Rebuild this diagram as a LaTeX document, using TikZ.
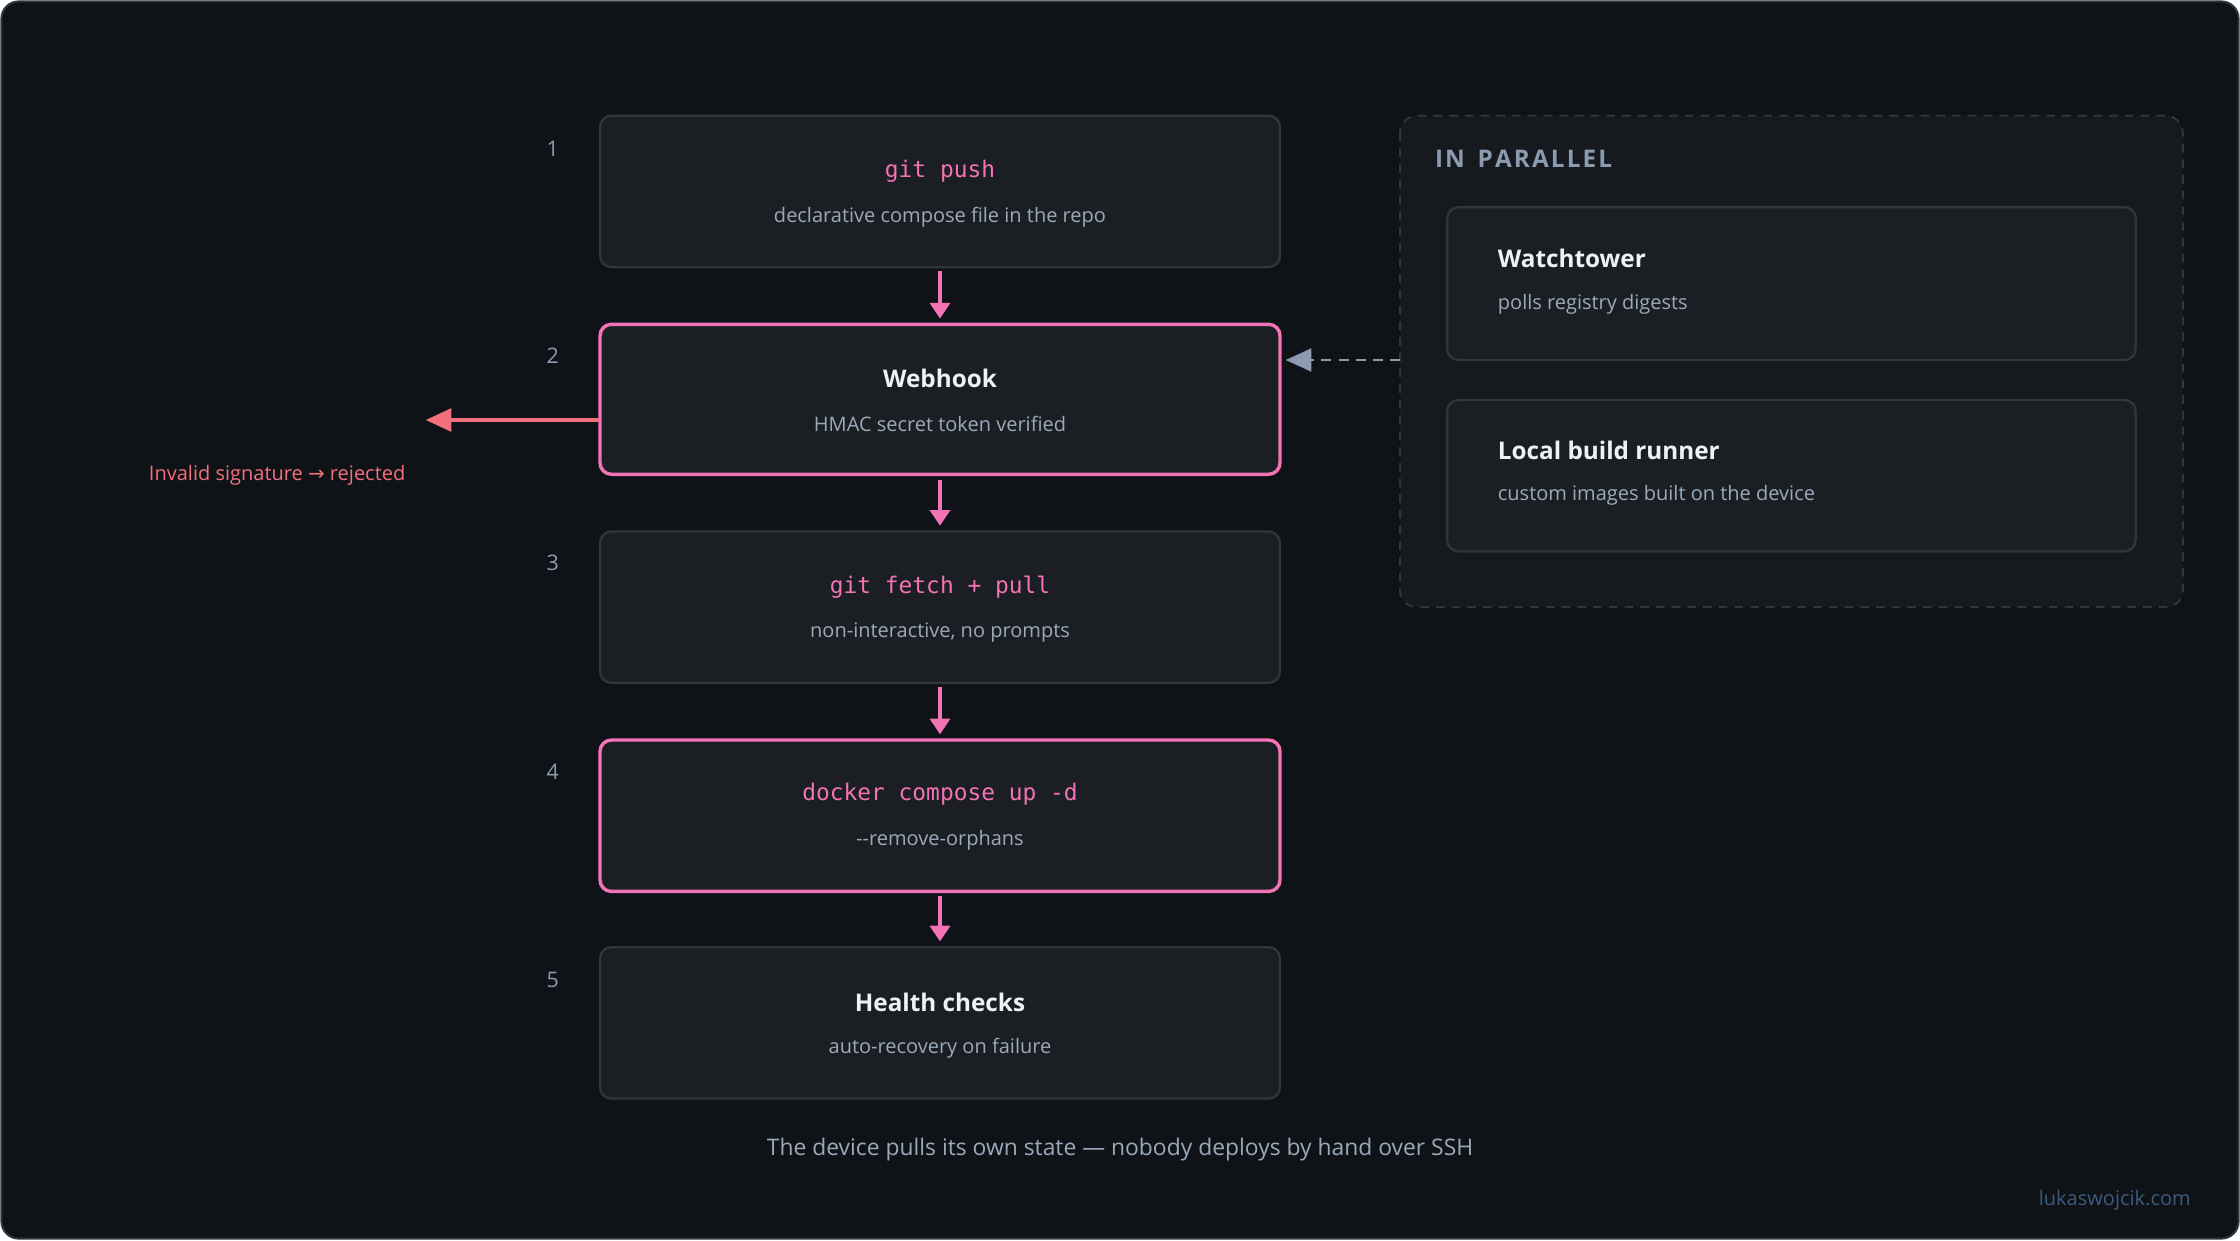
\documentclass[tikz,border=0pt]{standalone}
\usepackage{fontspec}
\setmainfont{Open Sans}
\newfontfamily\mono{DejaVu Sans Mono}
\newfontfamily\dvs{DejaVu Sans}
\usetikzlibrary{arrows.meta}
\definecolor{bg}{HTML}{0F1216}
\definecolor{boxbg}{HTML}{1B1F23}
\definecolor{edge}{HTML}{30363D}
\definecolor{pink}{HTML}{F472B6}
\definecolor{sub}{HTML}{9AAABB}
\definecolor{num}{HTML}{8B9BB0}
\definecolor{red}{HTML}{F2707C}
\definecolor{title}{HTML}{EEF2F6}
\definecolor{grp}{HTML}{161A1F}
\definecolor{link}{HTML}{3D5A80}
\begin{document}
\begin{tikzpicture}[x=1pt,y=-1pt,
  box/.style={draw=edge,line width=1.6pt,fill=boxbg,rounded corners=8pt},
  hot/.style={draw=pink,line width=2.4pt,fill=boxbg,rounded corners=8pt},
  ttl/.style={text=title,font=\fontsize{17}{20}\selectfont\bfseries},
  code/.style={text=pink,font=\mono\fontsize{16}{19}\selectfont},
  subt/.style={text=sub,font=\fontsize{14}{17}\selectfont},
  num/.style={text=num,font=\fontsize{15}{18}\selectfont},
  flow/.style={draw=pink,line width=2.4pt,-{Triangle[length=11pt,width=14pt]}}]
\useasboundingbox (0,0) rectangle (1568,868);
\draw[fill=bg,draw=edge,line width=1.4pt,rounded corners=12pt] (1,1) rectangle (1567,867);
% group
\draw[fill=grp,draw=edge,line width=1.4pt,dashed,dash pattern=on 6pt off 5pt,rounded corners=12pt] (980,81) rectangle (1528,425);
\node[anchor=west,text=num,font=\fontsize{17}{20}\selectfont\bfseries] (par) at (1001,111) {I\kern1.5pt N\ \ P\kern1.5pt A\kern1.5pt R\kern1.5pt A\kern1.5pt L\kern1.5pt L\kern1.5pt E\kern1.5pt L};
\draw[box] (1013,145) rectangle (1495,252);
\node[ttl,anchor=west] (wt) at (1045,181) {Watchtower};
\node[subt,anchor=west] (wts) at (1045,213) {polls registry digests};
\draw[box] (1013,280) rectangle (1495,386);
\node[ttl,anchor=west] (lb) at (1045,315) {Local build runner};
\node[subt,anchor=west] (lbs) at (1045,347) {custom images built on the device};
% main boxes
\draw[box] (420,81) rectangle (896,187);
\node[code] (t1) at (658,120) {git push};
\node[subt] (s1) at (658,152) {declarative compose file in the repo};
\draw[hot] (420,227) rectangle (896,332);
\node[ttl] (t2) at (658,265) {Webhook};
\node[subt] (s2) at (658,297) {HMAC secret token verified};
\draw[box] (420,372) rectangle (896,478);
\node[code] (t3) at (658,411) {git fetch + pull};
\node[subt] (s3) at (658,443) {non-interactive, no prompts};
\draw[hot] (420,518) rectangle (896,624);
\node[code] (t4) at (658,556) {docker compose up -d};
\node[subt] (s4) at (658,588) {{-}{-}remove-orphans};
\draw[box] (420,663) rectangle (896,769);
\node[ttl] (t5) at (658,702) {Health checks};
\node[subt] (s5) at (658,734) {auto-recovery on failure};
\foreach \n/\y in {1/104,2/249,3/394,4/540,5/686} \node[num] (n\n) at (387,\y) {\n};
% arrows
\coordinate (a1) at (658,190); \coordinate (a1e) at (658,223);
\coordinate (a2) at (658,336); \coordinate (a2e) at (658,368);
\coordinate (a3) at (658,481); \coordinate (a3e) at (658,514);
\coordinate (a4) at (658,627); \coordinate (a4e) at (658,659);
\foreach \i in {1,2,3,4} \draw[flow] (a\i) -- (a\i e);
\coordinate (wl) at (419,294); \coordinate (we) at (298,294);
\draw[draw=red,line width=2.4pt,-{Triangle[length=18pt,width=16pt]}] (wl) -- (we);
\node[text=red,font=\fontsize{14}{17}\selectfont] (rej) at (194,333) {Invalid signature {\dvs→} rejected};
\coordinate (gl) at (980,252); \coordinate (ge) at (900,252);
\draw[draw=num,line width=2pt,dash pattern=on 7pt off 5pt,-{Triangle[length=18pt,width=16pt]}] (gl) -- (ge);
\node[text=sub,font=\fontsize{16}{19}\selectfont] (foot) at (784,805) {The device pulls its own state — nobody deploys by hand over SSH};
\node[text=link,anchor=east,font=\fontsize{14}{17}\selectfont] (url) at (1537,840) {lukaswojcik.com};
\end{tikzpicture}
\end{document}
